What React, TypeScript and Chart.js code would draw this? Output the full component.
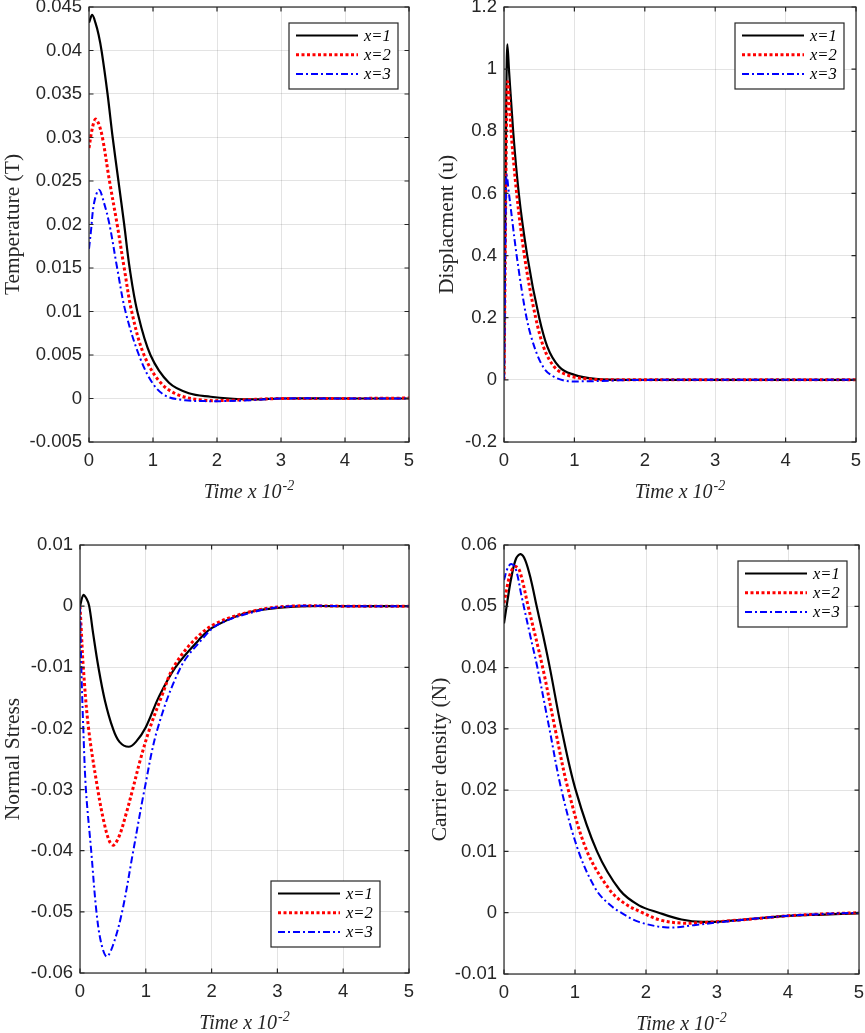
import React, { useEffect, useRef } from 'react';
import { Chart, registerables } from 'chart.js';

Chart.register(...registerables);

// ---------------- data ----------------
const timeTicks = [0, 1, 2, 3, 4, 5];
const seriesLabels = ['x=1', 'x=2', 'x=3'];

const temperatureTicks = [-0.005, 0, 0.005, 0.01, 0.015, 0.02, 0.025, 0.03, 0.035, 0.04, 0.045];
const temperatureX1: [number, number][] = [
  [0, 0.0432], [0.05, 0.0441], [0.1, 0.0432], [0.15, 0.0418], [0.2, 0.0398], [0.29, 0.035],
  [0.37, 0.03], [0.46, 0.025], [0.55, 0.02], [0.635, 0.015], [0.755, 0.01], [0.96, 0.005],
  [1.25, 0.0018], [1.56, 0.0006], [1.9, 0.0002], [2.2, 0], [2.6, -0.0001], [3, 0], [4, 0], [5, 0],
];
const temperatureX2: [number, number][] = [
  [0, 0.0288], [0.05, 0.031], [0.1, 0.0321], [0.15, 0.0316], [0.21, 0.03], [0.32, 0.025],
  [0.44, 0.02], [0.55, 0.015], [0.667, 0.01], [0.86, 0.005], [1.12, 0.0018], [1.4, 0.0004],
  [1.8, -0.0002], [2.2, -0.0002], [2.6, -0.0001], [3, 0], [4, 0], [5, 0.00005],
];
const temperatureX3: [number, number][] = [
  [0, 0.0172], [0.03, 0.0192], [0.08, 0.0225], [0.156, 0.024], [0.23, 0.0226], [0.32, 0.02],
  [0.44, 0.015], [0.57, 0.01], [0.78, 0.005], [0.99, 0.0018], [1.2, 0.0003], [1.5, -0.0002],
  [1.8, -0.0003], [2.1, -0.0003], [2.5, -0.0002], [3, 0], [4, 0], [5, 0],
];

const displacementTicks = [-0.2, 0, 0.2, 0.4, 0.6, 0.8, 1, 1.2];
const displacementX1: [number, number][] = [
  [0, 0], [0.047, 1.08], [0.07, 1.0], [0.13, 0.8], [0.21, 0.6], [0.33, 0.4], [0.5, 0.2],
  [0.615, 0.107], [0.78, 0.043], [1.0, 0.016], [1.3, 0.003], [1.7, 0], [2, 0], [3, 0], [4, 0], [5, 0],
];
const displacementX2: [number, number][] = [
  [0, 0], [0.05, 0.96], [0.1, 0.8], [0.18, 0.6], [0.29, 0.4], [0.45, 0.2], [0.56, 0.107],
  [0.71, 0.043], [0.92, 0.014], [1.2, 0.003], [1.6, 0], [2, 0], [3, 0], [4, 0], [5, 0],
];
const displacementX3: [number, number][] = [
  [0, 0], [0.035, 0.66], [0.07, 0.6], [0.18, 0.4], [0.32, 0.2], [0.43, 0.107], [0.56, 0.04],
  [0.71, 0.01], [0.85, -0.002], [1.0, -0.005], [1.3, -0.004], [1.7, -0.001], [2.2, 0], [3, 0], [4, 0], [5, 0],
];

const stressTicks = [-0.06, -0.05, -0.04, -0.03, -0.02, -0.01, 0, 0.01];
const stressX1: [number, number][] = [
  [0, 0], [0.05, 0.0018], [0.1, 0.0012], [0.14, 0], [0.2, -0.0045], [0.28, -0.01], [0.38, -0.0155],
  [0.5, -0.02], [0.6, -0.0222], [0.74, -0.023], [0.85, -0.0222], [1.0, -0.0198], [1.2, -0.0148],
  [1.45, -0.01], [1.8, -0.0056], [2.0, -0.0036], [2.5, -0.0012], [3, -0.0003], [3.5, 0], [4, 0], [5, 0],
];
const stressX2: [number, number][] = [
  [0, 0], [0.02, -0.004], [0.05, -0.01], [0.13, -0.02], [0.27, -0.03], [0.37, -0.0356], [0.45, -0.0385],
  [0.51, -0.0391], [0.6, -0.0375], [0.7, -0.034], [0.8, -0.03], [0.92, -0.025], [1.06, -0.02],
  [1.25, -0.0145], [1.42, -0.01], [1.74, -0.0055], [2.07, -0.0028], [2.67, -0.0007], [3.2, 0], [4, 0], [5, 0],
];
const stressX3: [number, number][] = [
  [0, 0], [0.02, -0.01], [0.05, -0.02], [0.09, -0.03], [0.17, -0.04], [0.25, -0.05], [0.32, -0.055],
  [0.405, -0.0573], [0.5, -0.0555], [0.64, -0.05], [0.81, -0.04], [0.98, -0.03], [1.18, -0.02],
  [1.53, -0.01], [1.84, -0.0056], [2.1, -0.003], [2.7, -0.0008], [3.2, 0], [4, 0], [5, 0],
];

const carrierTicks = [-0.01, 0, 0.01, 0.02, 0.03, 0.04, 0.05, 0.06];
const carrierX1: [number, number][] = [
  [0, 0.0472], [0.05, 0.051], [0.1, 0.0545], [0.17, 0.0578], [0.235, 0.0585], [0.3, 0.0575],
  [0.38, 0.0543], [0.46, 0.05], [0.55, 0.0453], [0.65, 0.0397], [0.81, 0.03], [1.01, 0.02],
  [1.31, 0.01], [1.63, 0.0037], [1.9, 0.0012], [2.18, 0], [2.5, -0.0011], [2.8, -0.0015],
  [3.2, -0.0013], [3.6, -0.0009], [4, -0.0005], [4.5, -0.0003], [5, -0.0001],
];
const carrierX2: [number, number][] = [
  [0, 0.0505], [0.05, 0.0535], [0.1, 0.0557], [0.16, 0.0565], [0.22, 0.0558], [0.34, 0.05],
  [0.545, 0.04], [0.72, 0.03], [0.906, 0.02], [1.17, 0.01], [1.49, 0.0037], [1.7, 0.0015], [1.95, 0],
  [2.2, -0.0012], [2.5, -0.0017], [2.8, -0.0016], [3.2, -0.0013], [3.6, -0.0009], [4, -0.0005],
  [4.5, -0.0002], [5, 0],
];
const carrierX3: [number, number][] = [
  [0, 0.0543], [0.05, 0.0562], [0.1, 0.0569], [0.16, 0.0563], [0.25, 0.0515], [0.36, 0.0457],
  [0.47, 0.04], [0.64, 0.03], [0.81, 0.02], [1.05, 0.01], [1.3, 0.0037], [1.5, 0.0012], [1.65, 0],
  [1.9, -0.0015], [2.3, -0.0024], [2.7, -0.002], [3, -0.0016], [3.5, -0.001], [4, -0.0005],
  [4.5, -0.0002], [5, 0],
];

// ---------------- styles & layout ----------------
const SERIF = "'Liberation Serif', 'Times New Roman', Times, serif";
const SANS = "'Liberation Sans', Arial, Helvetica, sans-serif";
const INK = '#262626';

const LINE_STYLES = [
  { borderColor: '#000000', borderWidth: 2.2, borderDash: [] as number[] },
  { borderColor: '#ff0000', borderWidth: 3, borderDash: [3, 2.5] },
  { borderColor: '#0000ff', borderWidth: 2, borderDash: [7, 3, 2, 3] },
];

type Box = { left: number; top: number; width: number; height: number };
type Area = { left: number; top: number; right: number; bottom: number };
type Panel = {
  id: string;
  yTitle: string;
  yTicks: number[];
  series: [number, number][][];
  smooth: 'monotone' | 'default';
  canvas: Box;
  area: Area;
  legend: { anchor: 'ne' | 'se'; dx: number; dy: number };
};

const PANELS: Panel[] = [
  {
    id: 'temperature',
    yTitle: 'Temperature (T)',
    yTicks: temperatureTicks,
    series: [temperatureX1, temperatureX2, temperatureX3],
    smooth: 'default',
    canvas: { left: 0, top: 0, width: 432, height: 515 },
    area: { left: 89, top: 7, right: 409, bottom: 442 },
    legend: { anchor: 'ne', dx: 11, dy: 16 },
  },
  {
    id: 'displacement',
    yTitle: 'Displacment (u)',
    yTicks: displacementTicks,
    series: [displacementX1, displacementX2, displacementX3],
    smooth: 'monotone',
    canvas: { left: 434, top: 0, width: 431, height: 515 },
    area: { left: 504, top: 7, right: 856, bottom: 442 },
    legend: { anchor: 'ne', dx: 12, dy: 16 },
  },
  {
    id: 'stress',
    yTitle: 'Normal Stress',
    yTicks: stressTicks,
    series: [stressX1, stressX2, stressX3],
    smooth: 'default',
    canvas: { left: 0, top: 515, width: 432, height: 518 },
    area: { left: 80, top: 545, right: 409, bottom: 973 },
    legend: { anchor: 'se', dx: 29, dy: 26 },
  },
  {
    id: 'carrier',
    yTitle: 'Carrier density (N)',
    yTicks: carrierTicks,
    series: [carrierX1, carrierX2, carrierX3],
    smooth: 'default',
    canvas: { left: 427, top: 515, width: 438, height: 518 },
    area: { left: 504, top: 545, right: 859, bottom: 974 },
    legend: { anchor: 'ne', dx: 12, dy: 16 },
  },
];

// ---------------- plugins ----------------
const matlabFrame = {
  id: 'matlabFrame',
  afterDatasetsDraw(chart: any) {
    const { ctx, chartArea: a, scales } = chart;
    const len = 4.5;
    ctx.save();
    ctx.strokeStyle = INK;
    ctx.lineWidth = 1.2;
    ctx.setLineDash([]);
    ctx.strokeRect(a.left, a.top, a.right - a.left, a.bottom - a.top);
    ctx.beginPath();
    scales.x.ticks.forEach((t: any) => {
      const px = scales.x.getPixelForValue(t.value);
      ctx.moveTo(px, a.bottom);
      ctx.lineTo(px, a.bottom - len);
      ctx.moveTo(px, a.top);
      ctx.lineTo(px, a.top + len);
    });
    scales.y.ticks.forEach((t: any) => {
      const py = scales.y.getPixelForValue(t.value);
      ctx.moveTo(a.left, py);
      ctx.lineTo(a.left + len, py);
      ctx.moveTo(a.right, py);
      ctx.lineTo(a.right - len, py);
    });
    ctx.stroke();
    ctx.restore();
  },
};

const boxLegend = {
  id: 'boxLegend',
  afterDraw(chart: any, _args: any, opts: any) {
    const { ctx, chartArea: a } = chart;
    const w = 109;
    const h = 66;
    const x0 = a.right - opts.dx - w;
    const y0 = opts.anchor === 'se' ? a.bottom - opts.dy - h : a.top + opts.dy;
    ctx.save();
    ctx.fillStyle = '#ffffff';
    ctx.fillRect(x0, y0, w, h);
    ctx.strokeStyle = INK;
    ctx.lineWidth = 1.2;
    ctx.setLineDash([]);
    ctx.strokeRect(x0, y0, w, h);
    chart.data.datasets.forEach((ds: any, i: number) => {
      const y = y0 + 12.5 + i * 19.3;
      ctx.beginPath();
      ctx.setLineDash(ds.borderDash || []);
      ctx.lineWidth = ds.borderWidth;
      ctx.strokeStyle = ds.borderColor;
      ctx.moveTo(x0 + 7, y);
      ctx.lineTo(x0 + 69, y);
      ctx.stroke();
      ctx.setLineDash([]);
      ctx.fillStyle = '#000000';
      ctx.font = `italic 16.5px ${SERIF}`;
      ctx.textBaseline = 'middle';
      ctx.textAlign = 'left';
      ctx.fillText(ds.label, x0 + 75, y + 1);
    });
    ctx.restore();
  },
};

const timeTitle = {
  id: 'timeTitle',
  afterDraw(chart: any) {
    const { ctx, chartArea: a } = chart;
    const main = 'Time x 10';
    const sup = '-2';
    ctx.save();
    ctx.fillStyle = INK;
    ctx.textBaseline = 'alphabetic';
    ctx.textAlign = 'left';
    ctx.font = `italic 20px ${SERIF}`;
    const w1 = ctx.measureText(main).width;
    ctx.font = `italic 14px ${SERIF}`;
    const w2 = ctx.measureText(sup).width;
    const cx = (a.left + a.right) / 2;
    const x = cx - (w1 + w2 + 1) / 2;
    const base = a.bottom + 56;
    ctx.font = `italic 20px ${SERIF}`;
    ctx.fillText(main, x, base);
    ctx.font = `italic 14px ${SERIF}`;
    ctx.fillText(sup, x + w1 + 1, base - 8);
    ctx.restore();
  },
};

function buildConfig(p: Panel): any {
  const { canvas, area } = p;
  return {
    type: 'line',
    data: {
      datasets: p.series.map((pts, i) => ({
        label: seriesLabels[i],
        data: pts.map(([x, y]) => ({ x, y })),
        ...LINE_STYLES[i],
        pointRadius: 0,
        pointHoverRadius: 0,
        fill: false,
        cubicInterpolationMode: p.smooth,
        tension: p.smooth === 'default' ? 0.35 : 0,
        borderJoinStyle: 'round',
        order: 3 - i,
      })),
    },
    options: {
      responsive: false,
      maintainAspectRatio: false,
      animation: false,
      events: [],
      layout: {
        autoPadding: false,
        padding: {
          left: 0,
          bottom: 0,
          top: area.top - canvas.top,
          right: canvas.left + canvas.width - area.right,
        },
      },
      plugins: {
        legend: { display: false },
        tooltip: { enabled: false },
        title: { display: false },
        boxLegend: p.legend,
      },
      scales: {
        x: {
          type: 'linear',
          min: timeTicks[0],
          max: timeTicks[timeTicks.length - 1],
          afterBuildTicks: (scale: any) => {
            scale.ticks = timeTicks.map((v) => ({ value: v }));
          },
          afterFit: (scale: any) => {
            scale.height = canvas.top + canvas.height - area.bottom;
            scale.paddingLeft = 0;
            scale.paddingRight = 0;
          },
          grid: { color: 'rgba(0,0,0,0.11)', lineWidth: 1, drawTicks: false },
          border: { display: false },
          ticks: {
            padding: 8,
            color: INK,
            font: { family: SANS, size: 18.5 },
            maxRotation: 0,
            autoSkip: false,
            callback: (v: number) => String(v),
          },
          title: { display: false },
        },
        y: {
          type: 'linear',
          min: p.yTicks[0],
          max: p.yTicks[p.yTicks.length - 1],
          afterBuildTicks: (scale: any) => {
            scale.ticks = p.yTicks.map((v) => ({ value: v }));
          },
          afterFit: (scale: any) => {
            scale.width = area.left - canvas.left;
            scale.paddingTop = 0;
            scale.paddingBottom = 0;
          },
          grid: { color: 'rgba(0,0,0,0.11)', lineWidth: 1, drawTicks: false },
          border: { display: false },
          ticks: {
            padding: 7,
            color: INK,
            font: { family: SANS, size: 18.5 },
            autoSkip: false,
            callback: (v: number) => String(v),
          },
          title: {
            display: true,
            text: p.yTitle,
            color: INK,
            padding: 0,
            font: { family: SERIF, size: 21.5, style: 'normal' },
          },
        },
      },
    },
    plugins: [matlabFrame, boxLegend, timeTitle],
  };
}

function PanelChart({ panel }: { panel: Panel }) {
  const ref = useRef<HTMLCanvasElement>(null);
  useEffect(() => {
    if (!ref.current) return;
    const chart = new Chart(ref.current, buildConfig(panel));
    return () => chart.destroy();
  }, [panel]);
  const c = panel.canvas;
  return (
    <canvas
      ref={ref}
      width={c.width}
      height={c.height}
      style={{ position: 'absolute', left: c.left, top: c.top, width: c.width, height: c.height }}
    />
  );
}

export default function App() {
  return (
    <div
      style={{
        position: 'absolute',
        left: 0,
        top: 0,
        width: 865,
        height: 1033,
        background: '#ffffff',
        overflow: 'hidden',
      }}
    >
      {PANELS.map((p) => (
        <PanelChart key={p.id} panel={p} />
      ))}
    </div>
  );
}
